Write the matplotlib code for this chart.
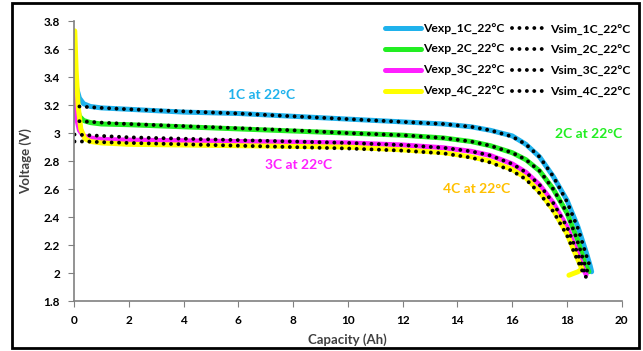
import numpy as np
import matplotlib.pyplot as plt
from matplotlib.patches import Rectangle

plt.rcParams["font.family"] = ["Lato", "DejaVu Sans"]
plt.rcParams["font.weight"] = "bold"

# Experimental curves (capacity in Ah, voltage in V)
cap_exp_1c = [0.03, 0.1, 0.2, 0.35, 0.6, 1.0, 2.0, 4.0, 6.0, 8.0, 10.0, 12.0, 13.5, 14.5, 15.2,
              16.0, 16.5, 17.0, 17.5, 18.0, 18.4, 18.7, 18.85, 18.9]
v_exp_1c = [3.45, 3.32, 3.25, 3.21, 3.19, 3.18, 3.17, 3.15, 3.14, 3.12, 3.10, 3.08, 3.065, 3.045, 3.02,
            2.98, 2.92, 2.83, 2.69, 2.52, 2.33, 2.15, 2.05, 2.01]

cap_exp_2c = [0.03, 0.1, 0.2, 0.35, 0.6, 1.0, 2.0, 4.0, 6.0, 8.0, 10.0, 12.0, 13.5, 14.5, 15.2,
              16.0, 16.5, 17.0, 17.5, 18.0, 18.4, 18.65, 18.8]
v_exp_2c = [3.35, 3.2, 3.12, 3.09, 3.075, 3.065, 3.06, 3.045, 3.03, 3.015, 3.0, 2.985, 2.965, 2.94, 2.91,
            2.86, 2.81, 2.73, 2.60, 2.43, 2.23, 2.07, 2.01]

cap_exp_3c = [0.03, 0.1, 0.2, 0.35, 0.6, 1.0, 2.0, 4.0, 6.0, 8.0, 10.0, 12.0, 13.5, 14.5, 15.2,
              16.0, 16.5, 17.0, 17.5, 18.0, 18.35, 18.6, 18.7]
v_exp_3c = [3.3, 3.1, 3.02, 2.98, 2.965, 2.955, 2.95, 2.945, 2.94, 2.935, 2.93, 2.915, 2.895, 2.87, 2.84,
            2.78, 2.72, 2.63, 2.50, 2.33, 2.16, 2.03, 1.99]

cap_exp_4c = [0.03, 0.08, 0.15, 0.25, 0.4, 0.6, 1.0, 2.0, 4.0, 6.0, 8.0, 10.0, 12.0, 13.5, 14.5, 15.2,
              16.0, 16.5, 17.0, 17.5, 18.0, 18.3, 18.5, 18.55, 18.4, 18.2, 18.07]
v_exp_4c = [3.73, 3.45, 3.2, 3.03, 2.96, 2.94, 2.93, 2.92, 2.915, 2.91, 2.905, 2.90, 2.88, 2.86, 2.83, 2.80,
            2.74, 2.68, 2.58, 2.45, 2.28, 2.14, 2.05, 2.03, 2.01, 1.995, 1.985]

# Simulated curves
cap_sim_1c = [0.2, 0.6, 1.0, 2.0, 4.0, 6.0, 8.0, 10.0, 12.0, 13.5, 14.5, 15.2, 16.0, 16.5, 17.0,
              17.5, 18.0, 18.4, 18.7, 18.85]
v_sim_1c = [3.19, 3.185, 3.18, 3.17, 3.155, 3.14, 3.12, 3.10, 3.08, 3.065, 3.045, 3.02, 2.975, 2.92, 2.83,
            2.69, 2.51, 2.32, 2.13, 2.04]

cap_sim_2c = [0.2, 0.6, 1.0, 2.0, 4.0, 6.0, 8.0, 10.0, 12.0, 13.5, 14.5, 15.2, 16.0, 16.5, 17.0,
              17.5, 18.0, 18.35, 18.6, 18.75]
v_sim_2c = [3.085, 3.08, 3.075, 3.065, 3.05, 3.035, 3.02, 3.0, 2.985, 2.965, 2.94, 2.91, 2.86, 2.81, 2.73,
            2.60, 2.43, 2.25, 2.09, 2.01]

cap_sim_3c = [0.02, 0.5, 1.0, 2.0, 4.0, 6.0, 8.0, 10.0, 12.0, 13.5, 14.5, 15.2, 16.0, 16.5, 17.0,
              17.5, 18.0, 18.35, 18.6, 18.72]
v_sim_3c = [2.99, 2.985, 2.98, 2.97, 2.96, 2.95, 2.94, 2.93, 2.915, 2.895, 2.87, 2.84, 2.78, 2.72, 2.63,
            2.50, 2.33, 2.16, 2.03, 1.97]

cap_sim_4c = [0.02, 0.5, 1.0, 2.0, 4.0, 6.0, 8.0, 10.0, 12.0, 13.5, 14.5, 15.2, 16.0, 16.5, 17.0,
              17.5, 18.0, 18.3, 18.55, 18.7]
v_sim_4c = [2.94, 2.94, 2.935, 2.93, 2.92, 2.91, 2.90, 2.89, 2.875, 2.855, 2.825, 2.79, 2.73, 2.67, 2.57,
            2.44, 2.27, 2.13, 2.02, 1.97]

exp_colors = ["#1FB2EC", "#22EE22", "#FF1FFF", "#FFFF00"]
text_colors = ["#1FB2EC", "#22EE22", "#FF1FFF", "#FFC000"]
exp_labels = ["Vexp_1C_22°C", "Vexp_2C_22°C", "Vexp_3C_22°C", "Vexp_4C_22°C"]
sim_labels = ["Vsim_1C_22°C", "Vsim_2C_22°C", "Vsim_3C_22°C", "Vsim_4C_22°C"]
annot_texts = ["1C at 22°C", "2C at 22°C", "3C at 22°C", "4C at 22°C"]
annot_pos = [(6.85, 3.27), (18.8, 2.99), (8.2, 2.775), (14.7, 2.60)]

exp_data = [(cap_exp_1c, v_exp_1c), (cap_exp_2c, v_exp_2c), (cap_exp_3c, v_exp_3c), (cap_exp_4c, v_exp_4c)]
sim_data = [(cap_sim_1c, v_sim_1c), (cap_sim_2c, v_sim_2c), (cap_sim_3c, v_sim_3c), (cap_sim_4c, v_sim_4c)]

fig = plt.figure(figsize=(6.43, 3.51), dpi=100)
ax = fig.add_axes([0.115, 0.142, 0.852, 0.798])

handles = []
for (c, v), col, lab in zip(exp_data, exp_colors, exp_labels):
    h, = ax.plot(c, v, color=col, lw=3.6, label=lab, solid_capstyle="round")
    handles.append(h)
for (c, v), lab in zip(sim_data, sim_labels):
    h, = ax.plot(c, v, color="black", lw=2.8, linestyle=(0, (0.01, 1.9)),
                 dash_capstyle="round", label=lab)
    handles.append(h)

for txt, (x, y), col in zip(annot_texts, annot_pos, text_colors):
    ax.text(x, y, txt, color=col, fontsize=10, fontweight="bold", ha="center", va="center")

ax.set_xlim(0, 20)
ax.set_ylim(1.8, 3.8)
ax.set_xticks(np.arange(0, 21, 2))
ax.set_yticks([1.8, 2.0, 2.2, 2.4, 2.6, 2.8, 3.0, 3.2, 3.4, 3.6, 3.8])
ax.set_yticklabels(["1.8", "2", "2.2", "2.4", "2.6", "2.8", "3", "3.2", "3.4", "3.6", "3.8"])
for s in ("top", "right"):
    ax.spines[s].set_visible(False)
for s in ("left", "bottom"):
    ax.spines[s].set_color("#808080")
    ax.spines[s].set_linewidth(1.2)
ax.tick_params(direction="out", length=4, color="#808080", labelsize=8.5, pad=6)
for lbl in ax.get_xticklabels() + ax.get_yticklabels():
    lbl.set_fontweight("bold")

ax.set_xlabel("Capacity (Ah)", fontsize=9.5, fontweight="bold", color="#404040", labelpad=5)
ax.set_ylabel("Voltage (V)", fontsize=9.5, fontweight="bold", color="#404040", labelpad=8)

leg = ax.legend(handles=handles, ncol=2, loc="upper right", bbox_to_anchor=(1.035, 1.03),
                frameon=False, fontsize=8.7, handlelength=3.0, handletextpad=0.15,
                columnspacing=0.6, labelspacing=0.8)
for t in leg.get_texts():
    t.set_fontweight("bold")

fig.patches.append(Rectangle((12 / 643, 3 / 351), 627 / 643, 345 / 351, transform=fig.transFigure,
                             fill=False, edgecolor="black", lw=2.0))

fig.savefig("out.png", dpi=100)
